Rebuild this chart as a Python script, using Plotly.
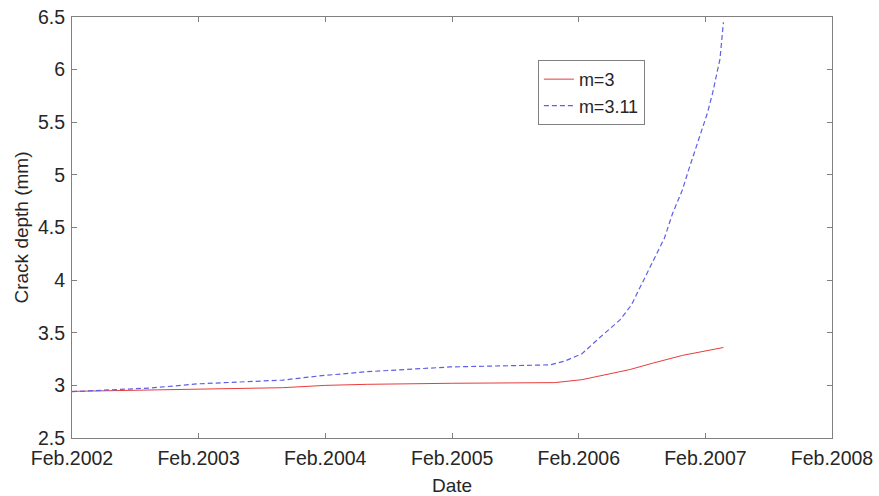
import plotly.graph_objects as go

# m=3 series (red, solid)
red_dates = ["2002-02-01", "2003-02-01", "2003-10-01", "2004-02-01", "2004-06-01",
             "2005-02-01", "2005-11-23", "2006-02-10", "2006-04-01", "2006-06-28",
             "2006-09-01", "2006-11-27", "2007-03-25"]
red_vals = [2.943, 2.968, 2.978, 3.0, 3.01, 3.02, 3.026, 3.054, 3.09, 3.15, 3.21, 3.285, 3.36]

# m=3.11 series (blue, dashed)
blue_dates = ["2002-02-01", "2002-06-01", "2002-09-15", "2003-02-01", "2003-06-01",
              "2003-10-01", "2004-01-15", "2004-06-01", "2005-01-25", "2005-11-10",
              "2005-12-22", "2006-02-10", "2006-04-01", "2006-05-30", "2006-07-02",
              "2006-08-10", "2006-09-07", "2006-10-06", "2006-10-29", "2006-11-27",
              "2006-12-15", "2007-01-13", "2007-02-07", "2007-02-22", "2007-03-15",
              "2007-03-25"]
blue_vals = [2.94, 2.955, 2.975, 3.015, 3.03, 3.05, 3.09, 3.13, 3.175, 3.195,
             3.23, 3.30, 3.45, 3.62, 3.76, 4.02, 4.22, 4.40, 4.63, 4.86,
             5.05, 5.33, 5.59, 5.78, 6.10, 6.45]

tick_dates = ["2002-02-01", "2003-02-01", "2004-02-01", "2005-02-01",
              "2006-02-01", "2007-02-01", "2008-02-01"]
tick_labels = ["Feb.2002", "Feb.2003", "Feb.2004", "Feb.2005",
               "Feb.2006", "Feb.2007", "Feb.2008"]

font_family = "Liberation Sans, Arial, sans-serif"
txt = "#262626"
fs_tick = 19.5
fs_title = 19
fs_leg = 18

fig = go.Figure()
fig.add_trace(go.Scatter(x=red_dates, y=red_vals, mode="lines", name="m=3",
                         line=dict(color="rgb(232,60,60)", width=1)))
fig.add_trace(go.Scatter(x=blue_dates, y=blue_vals, mode="lines", name="m=3.11",
                         line=dict(color="rgb(95,95,230)", width=1.2, dash="5px,3px")))

axis_common = dict(showline=True, linecolor="#808080", linewidth=1, mirror="ticks",
                   ticks="inside", ticklen=5, tickcolor="#808080", showgrid=False,
                   zeroline=False, automargin=False,
                   tickfont=dict(family=font_family, size=fs_tick, color=txt))

fig.update_layout(
    width=879, height=496,
    margin=dict(l=72, r=47, t=17, b=58),
    paper_bgcolor="white", plot_bgcolor="white",
    font=dict(family=font_family, size=fs_title, color=txt),
    xaxis=dict(type="date", range=["2002-02-01", "2008-02-01"],
               tickvals=tick_dates, ticktext=tick_labels, ticklabelstandoff=3,
               title=dict(text="Date", font=dict(size=fs_title, color=txt), standoff=10),
               **axis_common),
    yaxis=dict(range=[2.5, 6.5], tickvals=[2.5, 3, 3.5, 4, 4.5, 5, 5.5, 6, 6.5],
               ticktext=["2.5", "3", "3.5", "4", "4.5", "5", "5.5", "6", "6.5"],
               ticklabelstandoff=2,
               title=dict(text="Crack depth (mm)", font=dict(size=fs_title, color=txt), standoff=4),
               **axis_common),
    legend=dict(x=0.613, y=0.898, xanchor="left", yanchor="top",
                bgcolor="white", bordercolor="#808080", borderwidth=1,
                font=dict(size=fs_leg, color=txt), tracegroupgap=0,
                itemwidth=30),
    showlegend=True,
)

fig.write_html("out.html")
